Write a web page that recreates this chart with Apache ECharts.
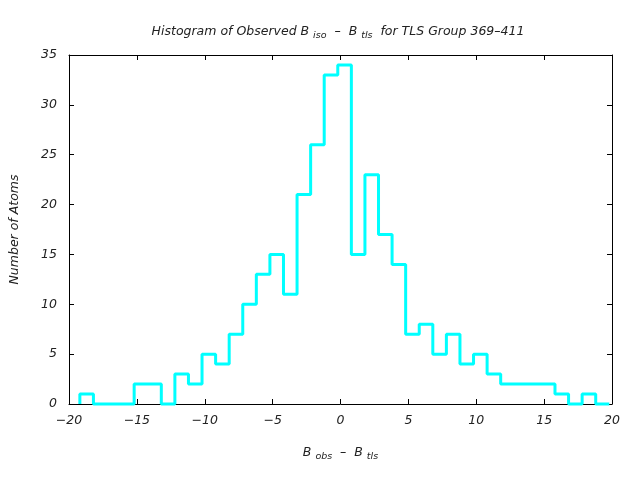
<!DOCTYPE html>
<html>
<head>
<meta charset="utf-8">
<script src="https://cdn.jsdelivr.net/npm/echarts@6/dist/echarts.min.js"></script>
<style>html,body{margin:0;padding:0;background:#fff}#c{width:640px;height:480px}</style>
</head>
<body>
<div id="c"></div>
<script>
// Bin left edges start and width
var binStart = -19.2;
var binWidth = 1.0;
// Counts per bin (from left to right)
var counts = [1,0,0,0,2,2,0,3,2,5,4,7,10,13,15,11,21,26,33,34,15,23,17,14,7,8,5,7,4,5,3,2,2,2,2,1,0,1,0];
var xTicks = [-20,-15,-10,-5,0,5,10,15,20];
var yTicks = [0,5,10,15,20,25,30,35];

var pts = [[binStart, 0]];
for (var i = 0; i < counts.length; i++) {
  var l = binStart + i * binWidth, r = l + binWidth;
  pts.push([l, counts[i]]);
  pts.push([r, counts[i]]);
}

var font = 'DejaVu Sans';
var chart = echarts.init(document.getElementById('c'), null, {renderer: 'canvas'});
var axisLine = {show: true, onZero: false, lineStyle: {color: '#000', width: 1}};
var tick = {show: true, inside: true, length: 5, lineStyle: {color: '#000'}};
var fmt = function (v) { return String(v).replace('-', '\u2212'); };
var lbl = {fontFamily: font, fontStyle: 'italic', fontSize: 12.5, color: '#222', formatter: fmt};
var subRich = {s: {fontFamily: font, fontStyle: 'italic', fontSize: 9.5, color: '#222', padding: [8, 0, 0, 0]}};
chart.setOption({
  animation: false,
  backgroundColor: '#fff',
  title: {
    text: 'Histogram of Observed B {s|iso}  –  B {s|tls}  for TLS Group 369–411',
    left: 333, top: 18, textAlign: 'center',
    textStyle: {fontFamily: font, fontStyle: 'italic', fontWeight: 'normal', fontSize: 12.5, color: '#222', rich: subRich}
  },
  grid: {left: 68, right: 28, top: 55, bottom: 76},
  xAxis: [{
    type: 'value', min: -20, max: 20, interval: 5,
    axisLine: axisLine, axisTick: tick, splitLine: {show: false},
    axisLabel: Object.assign({margin: 10}, lbl),
    name: 'B {s|obs}  –  B {s|tls}', nameLocation: 'middle', nameGap: 40,
    nameTextStyle: {fontFamily: font, fontStyle: 'italic', fontSize: 12.5, color: '#222', rich: subRich}
  }, {
    type: 'value', position: 'top', min: -20, max: 20, interval: 5,
    axisLine: axisLine, axisTick: tick, axisLabel: {show: false}, splitLine: {show: false}
  }],
  yAxis: [{
    type: 'value', min: 0, max: 35, interval: 5,
    axisLine: axisLine, axisTick: tick, splitLine: {show: false},
    axisLabel: Object.assign({margin: 12}, lbl),
    name: 'Number of Atoms', nameLocation: 'middle', nameGap: 48, nameRotate: 90,
    nameTextStyle: {fontFamily: font, fontStyle: 'italic', fontSize: 12.5, color: '#222'}
  }, {
    type: 'value', position: 'right', min: 0, max: 35, interval: 5,
    axisLine: axisLine, axisTick: tick, axisLabel: {show: false}, splitLine: {show: false}
  }],
  series: [{
    type: 'line', data: pts, showSymbol: false, symbol: 'none',
    lineStyle: {color: '#00ffff', width: 3}, clip: false
  }]
});
</script>
</body>
</html>
